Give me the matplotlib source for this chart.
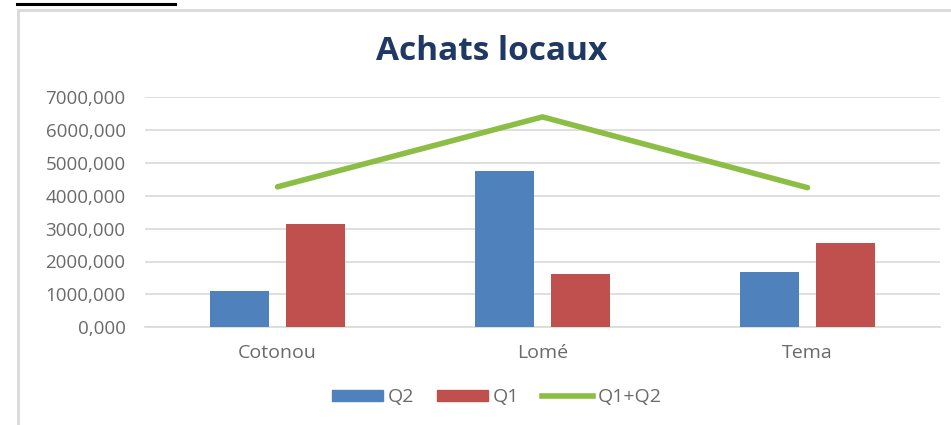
import matplotlib
matplotlib.use("Agg")
import matplotlib.pyplot as plt
from matplotlib.lines import Line2D
from matplotlib.patches import Rectangle
import numpy as np

categories = ["Cotonou", "Lomé", "Tema"]
q2_values = [1115, 4760, 1675]
q1_values = [3140, 1620, 2550]
total_values = [4270, 6395, 4245]
y_ticks = [0, 1000, 2000, 3000, 4000, 5000, 6000, 7000]
title = "Achats locaux"

plt.rcParams['font.family'] = ['Open Sans', 'DejaVu Sans']

W, H = 951, 425
fig = plt.figure(figsize=(W / 100, H / 100), dpi=100)

# outer chart frame (grey border, cut at right and bottom)
fig.patches.append(Rectangle((18 / W, -0.05), 1.1, (H - 10) / H + 0.05,
                             transform=fig.transFigure, facecolor='white',
                             edgecolor='#d9d9d9', linewidth=2.0, zorder=-5))
# remnant underline of the cut header text
fig.lines.append(Line2D([17 / W, 175 / W], [1 - 3.5 / H, 1 - 3.5 / H],
                        transform=fig.transFigure, color='black', linewidth=2.2,
                        zorder=-4))

ax = fig.add_axes([145 / W, 1 - 327.3 / H, 795 / W, 230.3 / H])
ax.set_facecolor('none')
ax.set_zorder(2)

x = np.arange(len(categories))
bw = 0.223
off = 0.1425
c_q2 = '#4f81bd'
c_q1 = '#c0504d'
c_tot = '#8cbd45'
txt = '#6a6a6a'
ax.bar(x - off, q2_values, bw, color=c_q2, label='Q2', zorder=3)
ax.bar(x + off, q1_values, bw, color=c_q1, label='Q1', zorder=3)
ax.plot(x, total_values, color=c_tot, linewidth=4, solid_capstyle='round',
        label='Q1+Q2', zorder=4)

ax.set_xlim(-0.5, 2.5)
ax.set_ylim(0, 7000)
ax.set_yticks(y_ticks)
ax.set_yticklabels([f"{v},000" for v in y_ticks])
ax.set_xticks(x)
ax.set_xticklabels(categories)
ax.yaxis.grid(True, color='#d9d9d9', linewidth=1.2, zorder=0)
ax.set_axisbelow(True)
for s in ['top', 'right', 'left']:
    ax.spines[s].set_visible(False)
ax.spines['bottom'].set_color('#d9d9d9')
ax.spines['bottom'].set_linewidth(1.2)
ax.tick_params(axis='both', length=0, colors=txt)
ax.tick_params(axis='y', pad=14, labelsize=13.5)
ax.tick_params(axis='x', pad=12, labelsize=14)

fig.text(492 / W, 1 - 51 / H, title, ha='center', va='center',
         fontsize=24, fontweight='bold', color='#1f3864')

handles = [Rectangle((0, 0), 1, 1, color=c_q2),
           Rectangle((0, 0), 1, 1, color=c_q1),
           Line2D([0], [0], color=c_tot, linewidth=4)]
fig.legend(handles, ['Q2', 'Q1', 'Q1+Q2'], loc='center',
           bbox_to_anchor=(497 / W, 1 - 397 / H), ncol=3, frameon=False,
           fontsize=14, labelcolor=txt, handlelength=2.6,
           handleheight=0.5, handletextpad=0.25, columnspacing=1.2)

fig.savefig('out.png', dpi=100, facecolor='white')
